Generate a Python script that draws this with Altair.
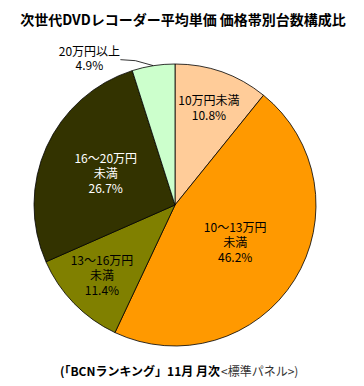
import math
import altair as alt
import pandas as pd

# ---- data ----
categories = ["10万円未満", "10～13万円未満", "13～16万円未満", "16～20万円未満", "20万円以上"]
label_names = ["10万円未満", "10～13万円\n未満", "13～16万円\n未満", "16～20万円\n未満", "20万円以上"]
shares = [10.8, 46.2, 11.4, 26.7, 4.9]
title_text = "次世代DVDレコーダー平均単価 価格帯別台数構成比"
caption_bold = "(「BCNランキング」11月 月次"
caption_normal = "<標準パネル>)"

# ---- style ----
FONT = "Noto Sans CJK JP"
slice_colors = ["#FFCC99", "#FF9900", "#808000", "#333300", "#CCFFCC"]
text_colors = ["black", "black", "black", "white", "black"]
label_radius = [102, 71, 102, 76]
LH = 15
CX, CY, R = 167, 197, 141

total = sum(shares)
cum = [sum(shares[:i]) for i in range(len(shares))]
mid_angles = [(c + s / 2) / total * 2 * math.pi for c, s in zip(cum, shares)]

df = pd.DataFrame({
    "cat": categories,
    "share": shares,
    "ord": list(range(len(categories))),
})

pie = alt.Chart(df).mark_arc(outerRadius=R, stroke="black", strokeWidth=0.8).encode(
    theta=alt.Theta("share:Q", stack=True),
    order=alt.Order("ord:Q"),
    color=alt.Color("cat:N", scale=alt.Scale(domain=categories, range=slice_colors), legend=None),
    x=alt.value(CX),
    y=alt.value(CY),
)

# label anchors: at each slice's mid-angle, block vertically centred
lab_texts = [f"{n}\n{s}%" for n, s in zip(label_names[:4], shares[:4])]
lab_px, lab_py = [], []
for t, a, r in zip(lab_texts, mid_angles[:4], label_radius):
    n = t.count("\n") + 1
    lab_px.append(CX + r * math.sin(a))
    lab_py.append(CY - r * math.cos(a) - (n - 1) / 2 * LH)

lab_df = pd.DataFrame({"label": lab_texts, "px": lab_px, "py": lab_py, "tc": text_colors[:4]})
labels = alt.Chart(lab_df).mark_text(font=FONT, fontSize=12, lineBreak="\n", lineHeight=LH,
                                     align="center", baseline="middle").encode(
    x=alt.X("px:Q", scale=None),
    y=alt.Y("py:Q", scale=None),
    text="label:N",
    color=alt.Color("tc:N", scale=None),
)

# outside label for the small slice: leader from slice edge at its mid-angle
ma = mid_angles[4]
ex = CX + R * math.sin(ma)
ey = CY - R * math.cos(ma)
kx, ky = ex - 18, ey - 5
sx, sy = kx - 15, ky - 1
leader_df = pd.DataFrame({"px": [sx, kx, ex], "py": [sy, ky, ey], "i": [0, 1, 2]})
leader = alt.Chart(leader_df).mark_line(color="black", strokeWidth=0.8).encode(
    x=alt.X("px:Q", scale=None), y=alt.Y("py:Q", scale=None), order="i:Q"
)

out_df = pd.DataFrame({"label": [f"{label_names[4]}\n{shares[4]}%"], "px": [sx - 31], "py": [sy - 8]})
out_label = alt.Chart(out_df).mark_text(font=FONT, fontSize=12, lineBreak="\n", lineHeight=14,
                                        align="center", baseline="middle", color="black").encode(
    x=alt.X("px:Q", scale=None), y=alt.Y("py:Q", scale=None), text="label:N"
)

title = alt.Chart(pd.DataFrame({"t": [title_text]})).mark_text(
    font=FONT, fontSize=14, fontWeight="bold", align="center", baseline="middle", color="black"
).encode(x=alt.value(175), y=alt.value(13), text="t:N")

cap1 = alt.Chart(pd.DataFrame({"t": [caption_bold]})).mark_text(
    font=FONT, fontSize=12, fontWeight="bold", align="right", baseline="middle", color="black"
).encode(x=alt.value(212), y=alt.value(364), text="t:N")
cap2 = alt.Chart(pd.DataFrame({"t": [caption_normal]})).mark_text(
    font=FONT, fontSize=12, align="left", baseline="middle", color="#333333"
).encode(x=alt.value(213), y=alt.value(364), text="t:N")

chart = alt.layer(pie, labels, leader, out_label, title, cap1, cap2).properties(
    width=348, height=370, padding=0, background="white"
).configure_view(stroke=None)

chart.save("out.html", embed_options={"renderer": "svg", "actions": False})
